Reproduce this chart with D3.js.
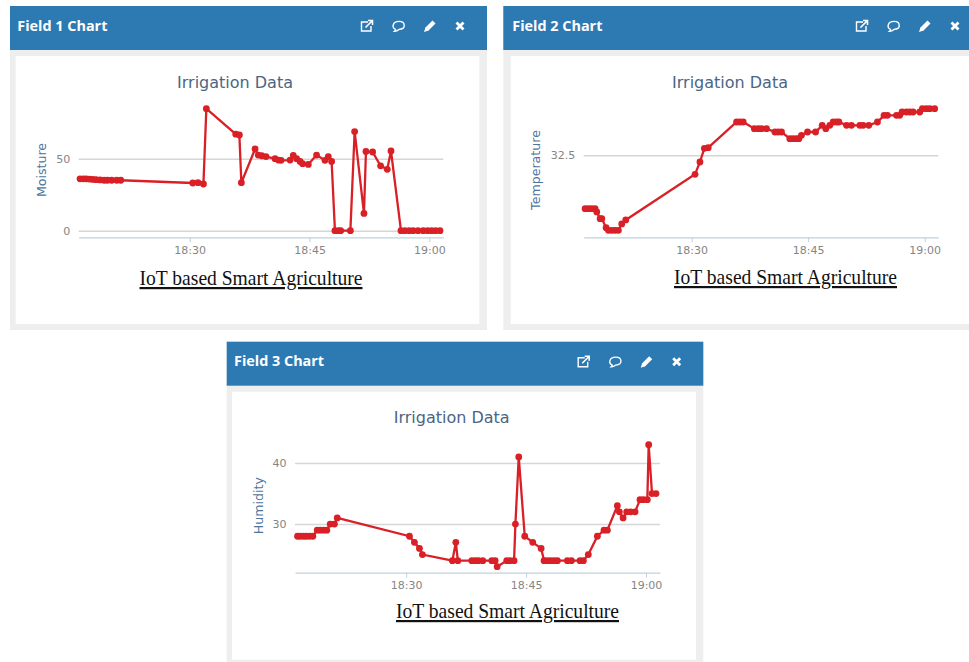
<!DOCTYPE html>
<html>
<head>
<meta charset="utf-8">
<title>Irrigation Data</title>
<script src="https://cdnjs.cloudflare.com/ajax/libs/d3/7.8.5/d3.min.js"></script>
<style>
    html, body { margin: 0; padding: 0; background: #fff; }
    svg { display: block; }
    .tick text { font-family: "DejaVu Sans", sans-serif; font-size: 11px; fill: #858585; }
    .marks { filter: blur(0.35px); }
</style>
</head>
<body>
<script>
// minutes after 18:00
const field1Minutes = [16.27, 16.69, 17.03, 17.44, 17.86, 18.28, 18.78, 19.28, 19.7, 20.24, 20.86, 21.36,
    30.38, 31.04, 31.71, 32.09, 35.76, 36.22, 36.47, 38.18, 38.59, 39.01, 39.55, 40.68, 41.1, 41.43,
    42.56, 42.97, 43.39, 43.81, 44.14, 44.85, 45.89, 46.94, 47.35, 47.77, 48.19, 48.61, 48.9, 50.11,
    50.65, 51.82, 52.07, 52.9, 53.9, 54.74, 55.2, 56.45, 56.95, 57.49, 57.99, 58.58, 59.24, 59.79,
    60.29, 60.79, 61.33];
const field1Moisture = [36, 36, 36, 35.8, 35.6, 35.4, 35.2, 35, 35, 35, 35, 35,
    33.1, 33.3, 32.4, 84.7, 67, 66.4, 33.3, 56.7, 52.5, 52, 51.4, 50, 49, 48.8,
    49, 52.3, 50, 48, 46.5, 46, 52.5, 48.8, 51.4, 48, 0, 0, 0, 0,
    68.8, 12, 55, 54.6, 45, 42.6, 55.3, 0, 0, 0, 0, 0, 0, 0,
    0, 0, 0];

const field2Minutes = [16.28, 16.71, 17.14, 17.57, 17.78, 18.21, 18.43, 18.98, 19.28, 19.71, 20.14, 20.57, 21, 21.51,
    30.43, 31.07, 31.63, 32.14, 35.79, 36.22, 36.64, 38.06, 38.57, 39, 39.64, 40.72, 41.14, 41.57,
    42.64, 43.07, 43.5, 43.8, 44.14, 44.92, 45.95, 46.8, 47.27, 47.79, 48.22, 48.65, 48.95, 49.93,
    50.57, 51.65, 52.07, 52.8, 53.92, 54.77, 55.2, 56.36, 56.79, 57.09, 57.65, 58.08, 58.5, 59.36,
    59.7, 60.22, 60.65, 61.29];
const field2Temperature = [30.9, 30.9, 30.9, 30.9, 30.8, 30.6, 30.6, 30.33, 30.25, 30.25, 30.25, 30.25, 30.44, 30.56,
    31.93, 32.3, 32.71, 32.73, 33.5, 33.5, 33.5, 33.3, 33.3, 33.3, 33.3, 33.2, 33.2, 33.2,
    33, 33, 33, 33, 33.1, 33.2, 33.2, 33.4, 33.3, 33.4, 33.5, 33.5, 33.5, 33.4,
    33.4, 33.4, 33.4, 33.4, 33.5, 33.7, 33.7, 33.7, 33.7, 33.8, 33.8, 33.8, 33.8, 33.8,
    33.9, 33.9, 33.9, 33.9];

const field3Minutes = [16.42, 16.75, 17.17, 17.5, 17.92, 18.33, 18.88, 19.25, 19.67, 20.08, 20.5, 21.04, 21.38,
    30.42, 31.04, 31.67, 32.04, 35.79, 36.21, 36.46, 38.21, 38.63, 39.04, 39.58, 40.71, 41.13, 41.38,
    42.58, 43, 43.5, 43.67, 44.08, 44.83, 45.83, 46.88, 47.25, 47.67, 48.08, 48.5, 48.92,
    50.17, 50.67, 51.75, 52.17, 52.79, 53.92, 54.75, 55.17, 56.42, 56.67, 57.13, 57.58, 58.08, 58.63,
    59.25, 59.67, 60.17, 60.33, 60.75, 61.25];
const field3Humidity = [28, 28, 28, 28, 28, 28, 29, 29, 29, 29, 30, 30, 31,
    28, 27, 26, 25, 24, 27, 24, 24, 24, 24, 24, 24, 24, 23,
    24, 24, 24, 30, 41, 28, 27, 26, 24, 24, 24, 24, 24,
    24, 24, 24, 24, 25, 28, 29, 29, 33, 32, 31, 32, 32, 32,
    34, 34, 34, 43, 35, 35];

const timeTicks = [30, 45, 60];
const moistureTicks = [0, 50];
const temperatureTicks = [32.5];
const humidityTicks = [30, 40];

const chartTitle = 'Irrigation Data';
const captionText = 'IoT based Smart Agriculture';

const clock = m => new Date(2019, 0, 1, 18, 0, Math.round(m * 60));

let svg = d3.select('body').append('svg')
    .attr('width', 969)
    .attr('height', 662);

function fieldChart(c) {
    // panel frame
    svg.append('rect')
        .attr('x', c.left).attr('y', c.top)
        .attr('width', c.right - c.left).attr('height', c.bottom - c.top)
        .attr('fill', '#eeeeee');
    svg.append('rect')
        .attr('x', c.left).attr('y', c.top)
        .attr('width', c.right - c.left).attr('height', 44)
        .attr('fill', '#2d7ab3');
    svg.append('rect')
        .attr('x', c.whiteLeft).attr('y', c.top + 50)
        .attr('width', c.whiteRight - c.whiteLeft).attr('height', 268)
        .attr('fill', '#fff');

    svg.append('text')
        .text(c.heading)
        .attr('x', c.inner + 7.3)
        .attr('y', c.top + 24.5)
        .attr('fill', '#fff')
        .attr('font-family', '"Open Sans", sans-serif')
        .attr('font-weight', 700)
        .attr('font-size', 14.4);

    headerIcons(c.inner, c.top + 20);

    //scales
    var xScale = d3.scaleTime()
        .domain([clock(16.1), clock(61.75)])
        .range(c.xRange);

    var yScale = d3.scaleLinear()
        .domain(c.yDomain)
        .range(c.yRange);

    // horizontal grid
    var yAxisG = svg.append('g')
        .attr('transform', 'translate(' + c.xRange[0] + ',0)')
        .call(d3.axisLeft(yScale)
            .tickValues(c.yTicks)
            .tickFormat(d => d)
            .tickSize(-(c.xRange[1] - c.xRange[0]))
            .tickPadding(8.5))
        .call(g => g.select('.domain').remove());
    yAxisG.selectAll('.tick line')
        .attr('stroke', '#d6d6d6')
        .attr('stroke-width', 1.5);

    // time axis
    var xAxisG = svg.append('g')
        .attr('transform', 'translate(0,' + c.yRange[0] + ')')
        .call(d3.axisBottom(xScale)
            .tickValues(timeTicks.map(clock))
            .tickFormat(d3.timeFormat('%H:%M'))
            .tickSize(5)
            .tickSizeOuter(0)
            .tickPadding(4));
    xAxisG.select('.domain').attr('stroke', '#c0d0e0').attr('stroke-width', 1.2);
    xAxisG.selectAll('.tick line').attr('stroke', '#c0d0e0');

    // line + markers
    var points = c.minutes.map((m, i) => ({ t: clock(m), v: c.values[i] }));
    var line = d3.line()
        .x(d => xScale(d.t))
        .y(d => yScale(d.v));

    var marks = svg.append('g').attr('class', 'marks');

    marks.append('path')
        .datum(points)
        .attr('d', line)
        .attr('fill', 'none')
        .attr('stroke', '#d92027')
        .attr('stroke-width', 2.3);

    marks.selectAll('circle').data(points).enter()
        .append('circle')
        .attr('cx', d => xScale(d.t))
        .attr('cy', d => yScale(d.v))
        .attr('r', 3.4)
        .attr('fill', '#d92027');

    // titles
    svg.append('text')
        .text(chartTitle)
        .attr('x', c.titleX)
        .attr('y', c.top + 81.5)
        .attr('text-anchor', 'middle')
        .attr('fill', '#4b6584')
        .attr('font-family', '"DejaVu Sans", sans-serif')
        .attr('font-size', 16);

    svg.append('text')
        .text(c.yLabel)
        .attr('transform', 'translate(' + c.yLabelX + ',' + (c.top + 164) + ') rotate(-90)')
        .attr('text-anchor', 'middle')
        .attr('fill', '#4d759e')
        .attr('font-family', '"DejaVu Sans", sans-serif')
        .attr('font-size', 12.6);

    svg.append('text')
        .text(captionText)
        .attr('x', c.captionX)
        .attr('y', c.captionY)
        .attr('text-anchor', 'middle')
        .attr('fill', '#111')
        .attr('font-family', '"Liberation Serif", serif')
        .attr('font-size', 22)
        .attr('textLength', 223)
        .attr('lengthAdjust', 'spacingAndGlyphs')
        .style('text-decoration', 'underline');
}

// the four header glyphs: open, comment, edit, close
function headerIcons(x0, cy) {
    var g = svg.append('g')
        .attr('fill', 'none')
        .attr('stroke', '#fff');

    var open = g.append('g').attr('transform', 'translate(' + (x0 + 357) + ',' + cy + ')');
    open.append('path')
        .attr('d', 'M1-4H-5.5V5H4V0')
        .attr('stroke-width', 1.4);
    open.append('path')
        .attr('d', 'M-1.5 1.5L5-5M1-5.5H5.5V-1')
        .attr('stroke-width', 1.6);

    var bubble = g.append('g').attr('transform', 'translate(' + (x0 + 389) + ',' + cy + ')');
    bubble.append('path')
        .attr('d', 'M-3.5 3.4C-7.5 1.5-6.5-4.6 0-4.6C6.5-4.6 7.5 2.8 0 3.4C-1.5 4.8-3 5.2-4.5 5.2C-3.8 4.6-3.5 4-3.5 3.4Z')
        .attr('stroke-width', 1.4);

    g.append('path')
        .attr('transform', 'translate(' + (x0 + 420) + ',' + cy + ')')
        .attr('d', 'M-3.5 3.5L4 -4')
        .attr('stroke-width', 4.2);
    g.append('path')
        .attr('transform', 'translate(' + (x0 + 420) + ',' + cy + ')')
        .attr('d', 'M-6 6L-4.5 1.5L-1.5 4.5Z')
        .attr('fill', '#fff')
        .attr('stroke', 'none');

    g.append('path')
        .attr('transform', 'translate(' + (x0 + 450) + ',' + cy + ')')
        .attr('d', 'M-3.5-3.5L3.5 3.5M3.5-3.5L-3.5 3.5')
        .attr('stroke-width', 2.8);
}

fieldChart({
    heading: 'Field 1 Chart', yLabel: 'Moisture',
    minutes: field1Minutes, values: field1Moisture, yTicks: moistureTicks,
    left: 10, right: 487, top: 6, bottom: 330, inner: 10, whiteLeft: 15.7, whiteRight: 479.3,
    xRange: [78.7, 443.3], yRange: [237.3, 100], yDomain: [-4.6, 90.7],
    titleX: 235, yLabelX: 45.5, captionX: 251, captionY: 285
});

fieldChart({
    heading: 'Field 2 Chart', yLabel: 'Temperature',
    minutes: field2Minutes, values: field2Temperature, yTicks: temperatureTicks,
    left: 503.3, right: 969, top: 6, bottom: 330, inner: 505, whiteLeft: 510.7, whiteRight: 969,
    xRange: [583.7, 938.3], yRange: [237.3, 100], yDomain: [30.04, 34.16],
    titleX: 730, yLabelX: 540, captionX: 785.5, captionY: 284
});

fieldChart({
    heading: 'Field 3 Chart', yLabel: 'Humidity',
    minutes: field3Minutes, values: field3Humidity, yTicks: humidityTicks,
    left: 226.7, right: 703.3, top: 341.7, bottom: 662, inner: 226.7, whiteLeft: 232, whiteRight: 696,
    xRange: [295, 660], yRange: [572.7, 435], yDomain: [22.02, 44.6],
    titleX: 451.7, yLabelX: 262.5, captionX: 507.5, captionY: 618
});
</script>
</body>
</html>
